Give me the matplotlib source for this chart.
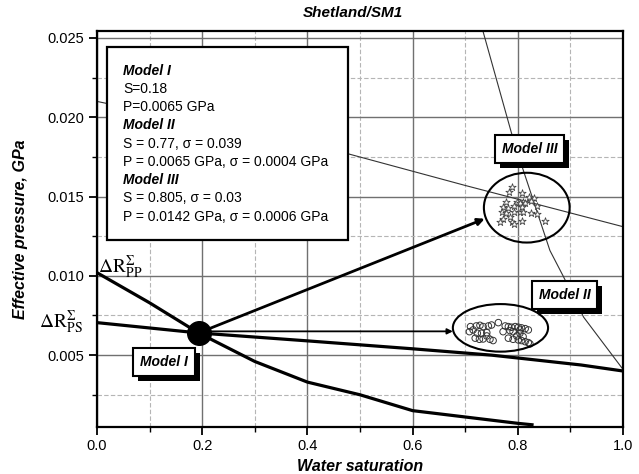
import numpy as np
import matplotlib
matplotlib.use("Agg")
import matplotlib.pyplot as plt
from matplotlib.patches import Ellipse, Rectangle
from matplotlib import patheffects

plt.rcParams['font.family'] = ['Liberation Sans', 'DejaVu Sans']
plt.rcParams['mathtext.fontset'] = 'stix'

# reflection-difference curves vs water saturation
pp_sat = [0.0, 0.1, 0.193, 0.3, 0.4, 0.5, 0.6, 0.7, 0.8, 0.83]
pp_pres = [0.0102, 0.0083, 0.0064, 0.0046, 0.0033, 0.0025, 0.0015, 0.0011, 0.0007, 0.0006]
ps_sat = [0.0, 0.193, 0.4, 0.6, 0.75, 0.8, 0.92, 1.0]
ps_pres = [0.00705, 0.0064, 0.0059, 0.0054, 0.0050, 0.00482, 0.00438, 0.0040]

# thin iso-lines
iso1_sat = [0.734, 0.788, 0.807, 0.861, 0.886, 0.925, 1.0]
iso1_pres = [0.0254, 0.0190, 0.0170, 0.0116, 0.0100, 0.0074, 0.0041]
iso2_sat = [0.0, 0.477, 0.7, 1.0]
iso2_pres = [0.021, 0.0177, 0.0157, 0.0131]

# model I solution
m1_sat, m1_pres = 0.193, 0.0064

# model II realisations (circles)
m2_sat = [0.710, 0.715, 0.708, 0.721, 0.728, 0.734, 0.744, 0.750, 0.763, 0.723,
          0.731, 0.741, 0.719, 0.727, 0.734, 0.747, 0.753, 0.741, 0.776, 0.782,
          0.788, 0.795, 0.801, 0.807, 0.814, 0.820, 0.785, 0.791, 0.804, 0.782,
          0.791, 0.801, 0.807, 0.814, 0.820, 0.823, 0.798, 0.810, 0.804, 0.772]
m2_pres = [0.00680, 0.00659, 0.00648, 0.00684, 0.00688, 0.00680, 0.00684, 0.00690, 0.00705, 0.00638,
           0.00638, 0.00642, 0.00607, 0.00600, 0.00602, 0.00600, 0.00592, 0.00621, 0.00684, 0.00680,
           0.00676, 0.00680, 0.00676, 0.00672, 0.00667, 0.00659, 0.00655, 0.00648, 0.00659, 0.00607,
           0.00600, 0.00596, 0.00592, 0.00585, 0.00579, 0.00571, 0.00621, 0.00617, 0.00638, 0.00648]

# model III realisations (stars)
m3_sat = [0.788, 0.784, 0.807, 0.822, 0.830, 0.826, 0.778, 0.798, 0.810, 0.804,
          0.814, 0.792, 0.772, 0.782, 0.807, 0.836, 0.769, 0.778, 0.792, 0.804,
          0.810, 0.826, 0.836, 0.772, 0.766, 0.788, 0.807, 0.792, 0.852, 0.785]
m3_pres = [0.01558, 0.01527, 0.01521, 0.01496, 0.01489, 0.01474, 0.01468, 0.01464, 0.01464, 0.01458,
           0.01458, 0.01441, 0.01436, 0.01426, 0.01436, 0.01441, 0.01401, 0.01395, 0.01405, 0.01405,
           0.01405, 0.01395, 0.01390, 0.01357, 0.01342, 0.01342, 0.01348, 0.01327, 0.01348, 0.01373]

# confidence ellipses: centre, width, height
m2_ell = (0.767, 0.00672, 0.181, 0.0030)
m3_ell = (0.817, 0.0143, 0.163, 0.0044)

info_lines = ["Model I", "S=0.18", "P=0.0065 GPa",
              "Model II", "S = 0.77, \u03c3 = 0.039", "P = 0.0065 GPa, \u03c3 = 0.0004 GPa",
              "Model III", "S = 0.805, \u03c3 = 0.03", "P = 0.0142 GPa, \u03c3 = 0.0006 GPa"]
info_bold = [True, False, False, True, False, False, True, False, False]

fig = plt.figure(figsize=(6.39, 4.74), dpi=100)
ax = fig.add_axes([0.1518, 0.0992, 0.8232, 0.8354])

ax.set_xlim(0.0, 1.0)
ax.set_ylim(0.00047, 0.02544)
ax.set_xticks(np.arange(0, 1.01, 0.2))
ax.set_xticks(np.arange(0.1, 1.0, 0.2), minor=True)
ax.set_yticks([0.005, 0.010, 0.015, 0.020, 0.025])
ax.set_yticks([0.0025, 0.0075, 0.0125, 0.0175, 0.0225], minor=True)
ax.set_xticklabels(["0.0", "0.2", "0.4", "0.6", "0.8", "1.0"])
ax.set_yticklabels(["0.005", "0.010", "0.015", "0.020", "0.025"])
ax.tick_params(which='major', direction='out', length=6, width=1.3, labelsize=10.5, pad=3)
ax.tick_params(which='minor', direction='out', length=3.5, width=1.0)
for sp in ax.spines.values():
    sp.set_linewidth(1.6)

ax.grid(which='major', color='#707070', lw=1.0, zorder=0)
ax.grid(which='minor', color='#b5b5b5', lw=0.8, ls=(0, (4, 2)), zorder=0)
ax.set_axisbelow(True)

ax.plot(iso1_sat, iso1_pres, color='#333333', lw=0.8, zorder=2)
ax.plot(iso2_sat, iso2_pres, color='#333333', lw=0.8, zorder=2)
ax.plot(pp_sat, pp_pres, color='black', lw=2.3, zorder=3, solid_capstyle='butt')
ax.plot(ps_sat, ps_pres, color='black', lw=2.3, zorder=3, solid_capstyle='butt')

ax.scatter(m2_sat, m2_pres, s=22, facecolors='none', edgecolors='#333333', linewidths=0.7, zorder=4)
ax.scatter(m3_sat, m3_pres, s=30, marker='*', facecolors='white', edgecolors='#444444', linewidths=0.6, zorder=4)

for cx, cy, w, h in (m2_ell, m3_ell):
    ax.add_patch(Ellipse((cx, cy), w, h, fill=False, ec='black', lw=1.5, zorder=5))

ax.annotate("", xy=(0.737, 0.0136), xytext=(m1_sat, m1_pres),
            arrowprops=dict(arrowstyle='-|>', lw=2.0, color='black', mutation_scale=10, shrinkA=0, shrinkB=0),
            zorder=5)
ax.annotate("", xy=(m2_ell[0] - m2_ell[2] / 2, 0.0065), xytext=(m1_sat, 0.0065),
            arrowprops=dict(arrowstyle='-|>', lw=1.3, color='black', mutation_scale=8, shrinkA=0, shrinkB=0),
            zorder=5)
ax.plot([m1_sat], [m1_pres], 'o', color='black', markersize=17, zorder=6)

# info box with model parameters
ax.add_patch(Rectangle((0.019, 0.472), 0.458, 0.488, transform=ax.transAxes,
                       fc='white', ec='black', lw=1.6, zorder=7))
for i, (line, bold) in enumerate(zip(info_lines, info_bold)):
    ax.text(0.0494, 0.8997 - i * 0.0461, line, transform=ax.transAxes, va='center', ha='left',
            fontsize=10, fontweight='bold' if bold else 'normal',
            fontstyle='italic' if bold else 'normal', zorder=8)


def shadow_label(x, y, text):
    t = ax.text(x, y, text, ha='center', va='center', fontsize=10,
                fontweight='bold', fontstyle='italic', zorder=8,
                bbox=dict(boxstyle='square,pad=0.5', fc='white', ec='black', lw=1.5))
    t.get_bbox_patch().set_path_effects([
        patheffects.SimplePatchShadow(offset=(3.6, -3.6), shadow_rgbFace='black', alpha=1.0),
        patheffects.Normal()])


shadow_label(0.822, 0.0180, "Model III")
shadow_label(0.889, 0.0088, "Model II")
shadow_label(0.127, 0.00457, "Model I")

ax.text(0.002, 0.0102, r'$\Delta\mathrm{R}^{\Sigma}_{\mathrm{PP}}$', fontsize=14, ha='left', va='baseline', zorder=6)
ax.text(-0.028, 0.0067, r'$\Delta\mathrm{R}^{\Sigma}_{\mathrm{PS}}$', fontsize=14, ha='right', va='baseline',
        clip_on=False)

fig.text(0.552, 1 - 13 / 474, "Shetland/SM1", ha='center', va='center', fontsize=11,
         fontweight='bold', fontstyle='italic')
ax.set_xlabel("Water saturation", fontsize=11.5, fontweight='bold', fontstyle='italic', labelpad=4)
ax.set_ylabel("Effective pressure, GPa", fontsize=11.5, fontweight='bold', fontstyle='italic', labelpad=14)

fig.savefig("out.png", dpi=100)
